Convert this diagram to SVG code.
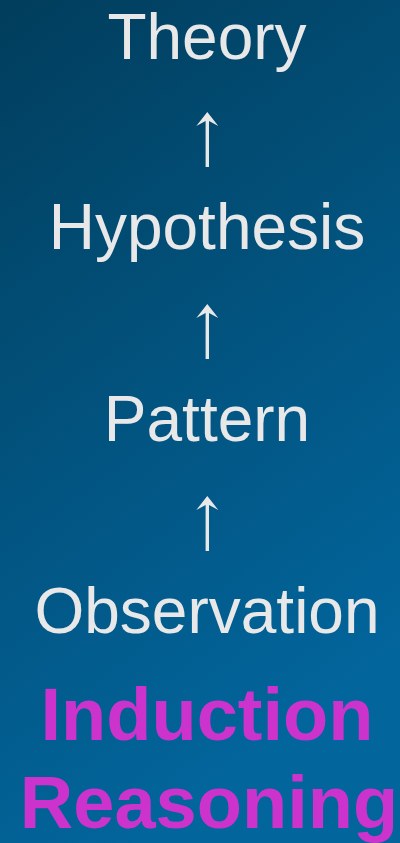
<svg xmlns="http://www.w3.org/2000/svg" width="400" height="843" viewBox="0 0 400 843">
<defs>
<linearGradient id="bg" x1="0" y1="0" x2="0.35" y2="1">
<stop offset="0" stop-color="#013d5c"/>
<stop offset="0.5" stop-color="#02527d"/>
<stop offset="1" stop-color="#02659c"/>
</linearGradient>
<style>
.lbl{font-family:"Liberation Sans",Arial,sans-serif;font-size:64px;fill:#e8e8e8;text-anchor:middle}
.title{font-family:"Liberation Sans",Arial,sans-serif;font-size:74px;font-weight:bold;fill:#cc33cc;text-anchor:middle}
.arr{fill:#e8e8e8}
</style>
</defs>
<rect width="400" height="843" fill="url(#bg)"/>
<g id="theory"><text class="lbl" x="207" y="59">Theory</text></g>
<g id="hypothesis"><text class="lbl" x="207" y="249">Hypothesis</text></g>
<g id="pattern"><text class="lbl" x="207" y="441">Pattern</text></g>
<g id="observation"><text class="lbl" x="207" y="633">Observation</text></g>
<g id="title"><text class="title" x="207" y="740">Induction</text><text class="title" x="209" y="828">Reasoning</text></g>
<g id="connectors">
<path class="arr" d="M207.3,112 L218.3,126 L209,121 L209,167 L205.6,167 L205.6,121 L196.3,126 Z"/>
<path class="arr" d="M207.3,304 L218.3,318 L209,313 L209,359 L205.6,359 L205.6,313 L196.3,318 Z"/>
<path class="arr" d="M207.3,496 L218.3,510 L209,505 L209,551 L205.6,551 L205.6,505 L196.3,510 Z"/>
</g>
</svg>
